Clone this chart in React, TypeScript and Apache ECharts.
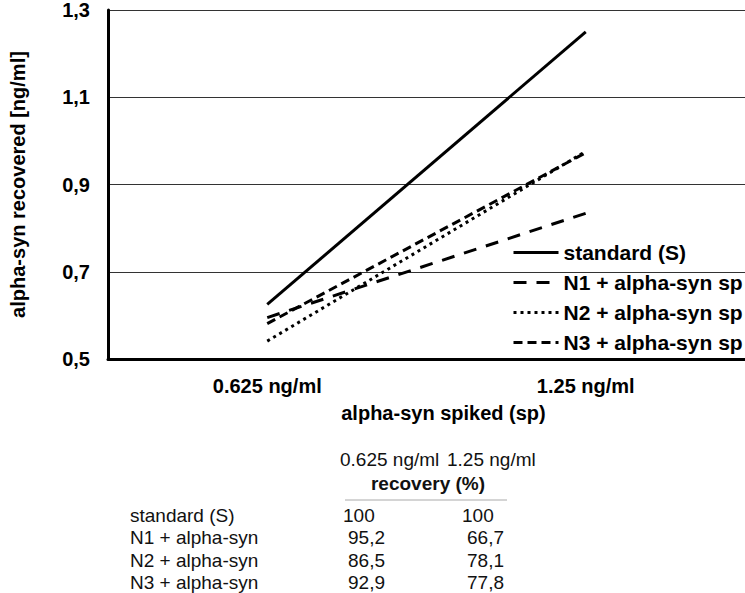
import React, { useEffect, useRef } from "react";
import * as echarts from "echarts";

const categories = ["0.625 ng/ml", "1.25 ng/ml"];
const seriesNames = ["standard (S)", "N1 + alpha-syn sp", "N2 + alpha-syn sp", "N3 + alpha-syn sp"];
const standardValues = [0.625, 1.25];
const n1Values = [0.595, 0.834];
const n2Values = [0.541, 0.976];
const n3Values = [0.581, 0.973];
const yTicks = [0.5, 0.7, 0.9, 1.1, 1.3];

const tableHeader = ["0.625 ng/ml", "1.25 ng/ml"];
const tableRowLabels = ["standard (S)", "N1 + alpha-syn", "N2 + alpha-syn", "N3 + alpha-syn"];
const recoveryCol1 = ["100", "95,2", "86,5", "92,9"];
const recoveryCol2 = ["100", "66,7", "78,1", "77,8"];

const FONT = 'Arial, "Liberation Sans", sans-serif';

export default function App() {
  const ref = useRef<HTMLDivElement>(null);
  useEffect(() => {
    if (!ref.current) return;
    const chart = echarts.init(ref.current, undefined, { renderer: "svg" });
    const lineDefs = [
      { values: standardValues, type: "solid" as any, width: 3 },
      { values: n1Values, type: [13, 10] as any, width: 3 },
      { values: n2Values, type: [3, 4] as any, width: 3 },
      { values: n3Values, type: [9, 5] as any, width: 3 },
    ];
    const rowY = [515, 537, 560, 582];
    const col1X = [343, 348, 348, 348];
    const col2X = [462, 467, 467, 467];
    const graphics: any[] = [];
    const textEl = (text: string, x: number, y: number, bold = false, align = "left") => ({
      type: "text",
      x,
      y,
      silent: true,
      style: {
        text,
        fill: "#111",
        font: `${bold ? "bold " : ""}19px ${FONT}`,
        align,
        verticalAlign: "middle",
      },
    });
    graphics.push(textEl(tableHeader[0], 340, 459));
    graphics.push(textEl(tableHeader[1], 447, 459));
    graphics.push(textEl("recovery (%)", 428, 483, true, "center"));
    graphics.push({
      type: "line",
      silent: true,
      shape: { x1: 345, y1: 500, x2: 507, y2: 500 },
      style: { stroke: "#aaa", lineWidth: 1 },
    });
    tableRowLabels.forEach((lbl, i) => {
      graphics.push(textEl(lbl, 130, rowY[i]));
      graphics.push(textEl(recoveryCol1[i], col1X[i], rowY[i]));
      graphics.push(textEl(recoveryCol2[i], col2X[i], rowY[i]));
    });

    chart.setOption({
      animation: false,
      textStyle: { fontFamily: FONT },
      grid: { left: 97, top: 8, width: 648, height: 351, containLabel: false },
      legend: {
        orient: "vertical",
        left: 507,
        top: 237,
        itemWidth: 45,
        itemHeight: 14,
        itemGap: 9,
        itemStyle: { opacity: 0, color: "rgba(0,0,0,0)", borderWidth: 0 },
        lineStyle: { width: 3, color: "#000", opacity: 1 },
        textStyle: { fontSize: 21, fontWeight: "bold", color: "#000", lineHeight: 21 },
        data: seriesNames,
      },
      xAxis: {
        type: "category",
        data: categories,
        boundaryGap: true,
        axisLine: { lineStyle: { color: "#000", width: 3 } },
        axisTick: { show: false },
        axisLabel: { fontSize: 20, fontWeight: "bold", color: "#000", margin: 17 },
        name: "alpha-syn spiked (sp)",
        nameLocation: "middle",
        nameGap: 44,
        nameTextStyle: { fontSize: 20, fontWeight: "bold", color: "#000", padding: [0, 0, 0, 34] },
      },
      yAxis: {
        type: "value",
        min: yTicks[0],
        max: yTicks[yTicks.length - 1],
        interval: 0.2,
        axisLine: { show: true, lineStyle: { color: "#000", width: 3 } },
        axisTick: { show: false },
        splitLine: { lineStyle: { color: "#333", width: 1 } },
        axisLabel: {
          fontSize: 20,
          fontWeight: "bold",
          color: "#000",
          margin: 18,
          formatter: (v: number) => v.toFixed(1).replace(".", ","),
        },
        name: "alpha-syn recovered [ng/ml]",
        nameLocation: "middle",
        nameGap: 80,
        nameTextStyle: { fontSize: 20, fontWeight: "bold", color: "#000" },
      },
      series: lineDefs.map((d, i) => ({
        name: seriesNames[i],
        type: "line",
        data: d.values,
        symbol: "none",
        lineStyle: { color: "#000", width: d.width, type: d.type },
        itemStyle: { color: "#000" },
      })),
      graphic: graphics,
    });
    return () => chart.dispose();
  }, []);
  return (
    <div
      ref={ref}
      style={{ position: "fixed", left: 0, top: 0, width: 745, height: 593, background: "#fff" }}
    />
  );
}
